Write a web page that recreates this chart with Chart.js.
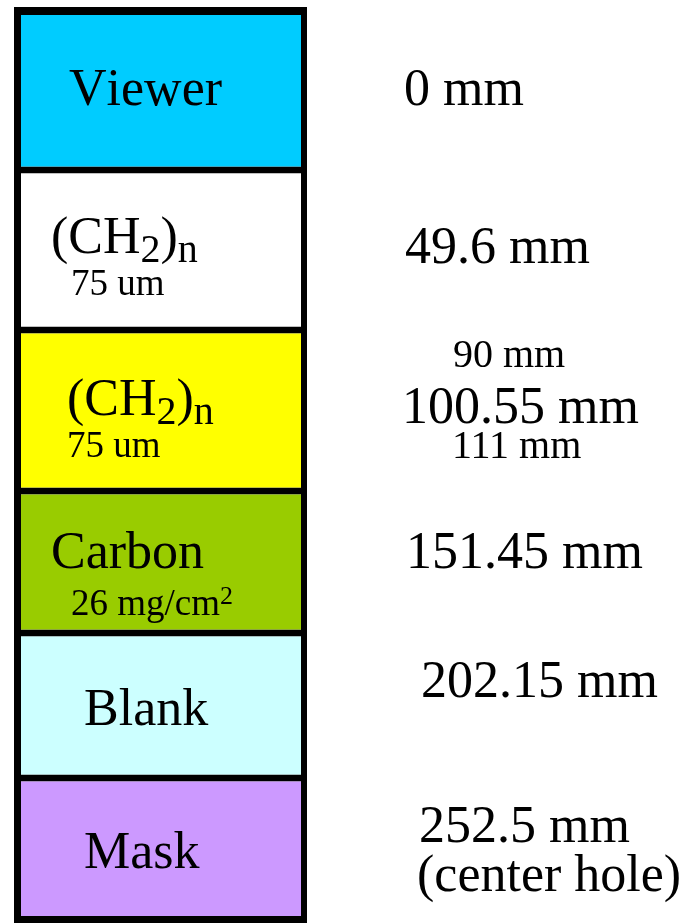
<!DOCTYPE html>
<html>
<head>
<meta charset="utf-8">
<script src="https://cdn.jsdelivr.net/npm/chart.js@4"></script>
<style>
  body { margin: 0; background: #fff; }
  #wrap { width: 693px; height: 923px; }
</style>
</head>
<body>
<div id="wrap"><canvas id="stack" width="693" height="923"></canvas></div>

<script>
  // layers of the stack, top to bottom
  const layers = ['Viewer', '(CH_2)_n', '(CH_2)_n', 'Carbon', 'Blank', 'Mask'];
  const layerNotes = ['', '75 um', '75 um', '26 mg/cm^2', '', ''];
  const layerHeights = [163, 160, 161, 142, 145, 145];
  // distance of each layer from the viewer
  const distances = [0, 49.6, 100.55, 151.45, 202.15, 252.5];
  const distNotesAbove = ['', '', '90 mm', '', '', ''];
  const distNotesBelow = ['', '', '111 mm', '', '', '(center hole)'];

  const colors = ['#00ccff', '#ffffff', '#ffff00', '#99cc00', '#ccffff', '#cc99ff'];
  const FONT = '"Liberation Serif", "Times New Roman", serif';

  // where the words sit, relative to each layer's box
  const leftPos = [
    { x: 55, y: 98 },
    { x: 37, y: 83, nx: 57, ny: 125 },
    { x: 53, y: 85, nx: 53, ny: 127 },
    { x: 37, y: 77, nx: 57, ny: 124 },
    { x: 70, y: 92 },
    { x: 70, y: 90 },
  ];
  const rightPos = [
    { x: 97, y: 98 },
    { x: 98, y: 93 },
    { x: 95, y: 93, ax: 146, ay: 37, bx: 145, by: 128 },
    { x: 99, y: 77 },
    { x: 114, y: 64 },
    { x: 112, y: 64, bx: 110, by: 113 },
  ];

  // "_x" -> subscript, "^x" -> superscript
  function drawRich(ctx, text, x, y, size, subSize, subDy) {
    let cx = x;
    for (let i = 0; i < text.length; i++) {
      let ch = text[i];
      let sz = size, dy = 0;
      if ((ch === '_' || ch === '^') && i + 1 < text.length) {
        sz = subSize;
        dy = ch === '_' ? subDy : -subDy;
        ch = text[++i];
      }
      ctx.font = sz + 'px ' + FONT;
      ctx.fillText(ch, cx, y + dy);
      cx += ctx.measureText(ch).width;
    }
  }

  const labelPlugin = {
    id: 'labels',
    afterDatasetsDraw(chart) {
      const ctx = chart.ctx;
      ctx.save();
      ctx.fillStyle = '#000';
      ctx.textBaseline = 'alphabetic';
      ctx.textAlign = 'left';
      layers.forEach((name, i) => {
        const bar = chart.getDatasetMeta(i).data[0];
        const { x, y, base, width } = bar.getProps(['x', 'y', 'base', 'width'], true);
        const left = x - width / 2;
        const right = x + width / 2;
        const top = Math.min(y, base);
        const lp = leftPos[i];
        drawRich(ctx, name, left + lp.x, top + lp.y, 52, 40, 9);
        if (layerNotes[i]) {
          drawRich(ctx, layerNotes[i], left + lp.nx, top + lp.ny, 37, 26, 11);
        }
        const rp = rightPos[i];
        ctx.font = '52px ' + FONT;
        ctx.fillText(distances[i] + ' mm', right + rp.x, top + rp.y);
        if (distNotesAbove[i]) {
          ctx.font = '40px ' + FONT;
          ctx.fillText(distNotesAbove[i], right + rp.ax, top + rp.ay);
        }
        if (distNotesBelow[i]) {
          ctx.font = (i === 5 ? 52 : 40) + 'px ' + FONT;
          ctx.fillText(distNotesBelow[i], right + rp.bx, top + rp.by);
        }
      });
      ctx.restore();
    }
  };

  const last = layers.length - 1;
  const datasets = layers.map((name, i) => ({
    label: name,
    data: [layerHeights[i]],
    backgroundColor: colors[i],
    borderColor: '#000',
    borderWidth: { top: i === 0 ? 8 : 3.5, bottom: i === last ? 7 : 3.5, left: 7, right: 6 },
    borderSkipped: false,
    inflateAmount: 0,
    barPercentage: 1,
    categoryPercentage: 1,
  }));

  new Chart(document.getElementById('stack'), {
    type: 'bar',
    data: { labels: [''], datasets },
    options: {
      responsive: false,
      animation: false,
      layout: { padding: { left: 14, right: 386, top: 7, bottom: 0 } },
      plugins: { legend: { display: false }, tooltip: { enabled: false }, title: { display: false } },
      scales: {
        x: { stacked: true, display: false },
        y: {
          stacked: true, display: false, reverse: true,
          min: 0, max: layerHeights.reduce((a, b) => a + b, 0),
        },
      },
    },
    plugins: [labelPlugin],
  });
</script>
</body>
</html>
